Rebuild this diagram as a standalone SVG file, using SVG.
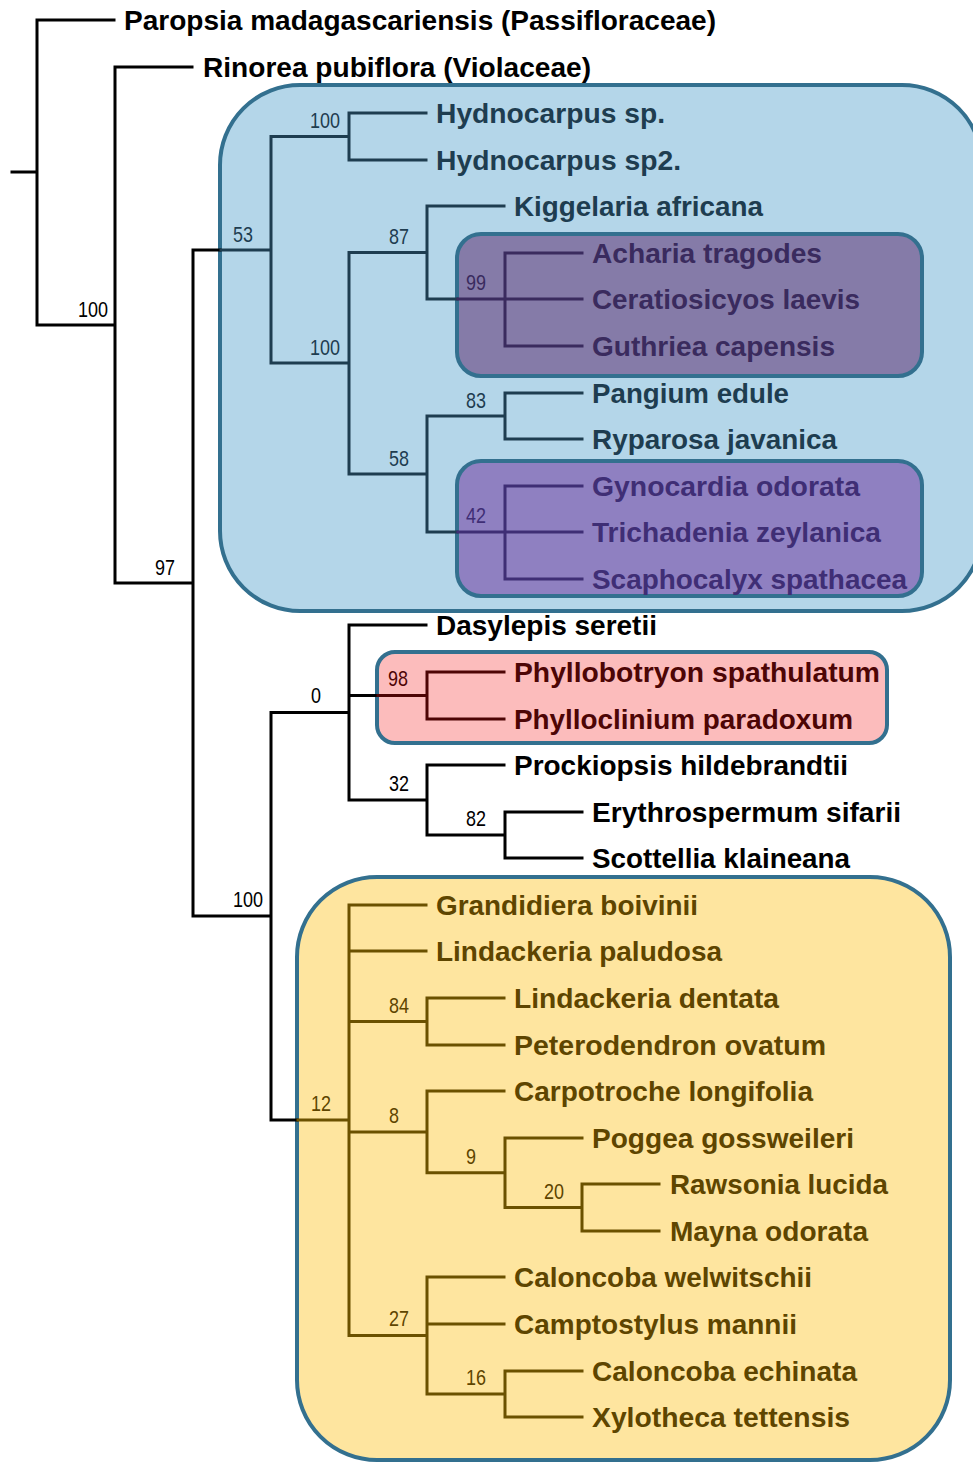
<svg xmlns="http://www.w3.org/2000/svg" width="973" height="1463" viewBox="0 0 973 1463">
<style>
.box{stroke:#33708f;stroke-width:4}
.ln{fill:none;stroke-width:3;stroke-linecap:square;stroke-linejoin:miter}
.k{stroke:#000}.tl{stroke:#1e3d50}.dp{stroke:#3a2b5e}.lp{stroke:#3f2e75}.rd{stroke:#4d0505}.br{stroke:#6b5100}
.t{font-family:"Liberation Sans",Arial,sans-serif;font-weight:bold;font-size:28px}
.n{font-family:"Liberation Sans",Arial,sans-serif;font-size:22px}
.fk{fill:#000}.ftl{fill:#1e3d50}.fdp{fill:#3a2b5e}.flp{fill:#3f2e75}.frd{fill:#4d0505}.fbr{fill:#5e4500}
</style>
<rect width="973" height="1463" fill="#fff"/>
<g id="boxes">
<rect id="box-blue" class="box" x="220" y="85" width="762" height="526" rx="80" fill="#b4d6e9"/>
<rect id="box-darkpurple" class="box" x="457" y="234" width="465" height="142" rx="24" fill="#857ba8"/>
<rect id="box-lightpurple" class="box" x="457" y="461" width="465" height="135" rx="24" fill="#8f80c1"/>
<rect id="box-pink" class="box" x="377" y="652" width="510" height="91" rx="18" fill="#fcbcbc"/>
<rect id="box-yellow" class="box" x="297" y="877" width="653" height="583" rx="80" fill="#fee59f"/>
</g>
<g id="connectors">
<path class="ln k" d="M12 172H37M37 20V325M37 20H114M37 325H115M115 67V583M115 67H192M115 583H193M193 250V916M193 250H220M193 916H271M271 712.5V1120M271 712.5H349M271 1120H297M349 625V800M349 625H426M349 695.5H377M349 800H427M427 765V835M427 765H504M427 835H505M505 812V858M505 812H582M505 858H582"/>
<path class="ln tl" d="M221 250H271M271 136.5V363M271 136.5H349M271 363H349M349 113V160M349 113H426M349 160H426M349 252.5V474M349 252.5H427M349 474H427M427 206V299M427 206H504M427 299H457M427 416V532M427 416H505M427 532H457M505 393V439M505 393H582M505 439H582"/>
<path class="ln dp" d="M458 299H505M505 253V346M505 253H582M505 299H582M505 346H582"/>
<path class="ln lp" d="M458 532H505M505 486V579M505 486H582M505 532H582M505 579H582"/>
<path class="ln rd" d="M378 695.5H427M427 672V719M427 672H504M427 719H504"/>
<path class="ln br" d="M298 1120H349M349 905V1335.5M349 905H426M349 951H426M349 1021.5H427M427 998V1045M427 998H504M427 1045H504M349 1132H427M427 1091V1172.7M427 1091H504M427 1172.7H505M505 1138V1207.5M505 1138H582M505 1207.5H582M582 1184V1231M582 1184H659M582 1231H659M349 1335.5H427M427 1277V1394M427 1277H504M427 1324H504M427 1394H505M505 1371V1417M505 1371H582M505 1417H582"/>
</g>
<g id="support-labels">
<text class="n fk" x="78" y="317" textLength="30" lengthAdjust="spacingAndGlyphs">100</text>
<text class="n fk" x="155" y="575" textLength="20" lengthAdjust="spacingAndGlyphs">97</text>
<text class="n ftl" x="233" y="242" textLength="20" lengthAdjust="spacingAndGlyphs">53</text>
<text class="n ftl" x="310" y="128" textLength="30" lengthAdjust="spacingAndGlyphs">100</text>
<text class="n ftl" x="310" y="355" textLength="30" lengthAdjust="spacingAndGlyphs">100</text>
<text class="n ftl" x="389" y="244" textLength="20" lengthAdjust="spacingAndGlyphs">87</text>
<text class="n fdp" x="466" y="290" textLength="20" lengthAdjust="spacingAndGlyphs">99</text>
<text class="n ftl" x="389" y="466" textLength="20" lengthAdjust="spacingAndGlyphs">58</text>
<text class="n ftl" x="466" y="408" textLength="20" lengthAdjust="spacingAndGlyphs">83</text>
<text class="n flp" x="466" y="523" textLength="20" lengthAdjust="spacingAndGlyphs">42</text>
<text class="n fk" x="311" y="703" textLength="10" lengthAdjust="spacingAndGlyphs">0</text>
<text class="n frd" x="388" y="686" textLength="20" lengthAdjust="spacingAndGlyphs">98</text>
<text class="n fk" x="389" y="791" textLength="20" lengthAdjust="spacingAndGlyphs">32</text>
<text class="n fk" x="466" y="826" textLength="20" lengthAdjust="spacingAndGlyphs">82</text>
<text class="n fk" x="233" y="907" textLength="30" lengthAdjust="spacingAndGlyphs">100</text>
<text class="n fbr" x="311" y="1111" textLength="20" lengthAdjust="spacingAndGlyphs">12</text>
<text class="n fbr" x="389" y="1013" textLength="20" lengthAdjust="spacingAndGlyphs">84</text>
<text class="n fbr" x="389" y="1123" textLength="10" lengthAdjust="spacingAndGlyphs">8</text>
<text class="n fbr" x="466" y="1164" textLength="10" lengthAdjust="spacingAndGlyphs">9</text>
<text class="n fbr" x="544" y="1199" textLength="20" lengthAdjust="spacingAndGlyphs">20</text>
<text class="n fbr" x="389" y="1326" textLength="20" lengthAdjust="spacingAndGlyphs">27</text>
<text class="n fbr" x="466" y="1385" textLength="20" lengthAdjust="spacingAndGlyphs">16</text>
</g>
<g id="taxa">
<g id="node-paropsia"><text class="t fk" x="124" y="30" textLength="592" lengthAdjust="spacingAndGlyphs">Paropsia madagascariensis (Passifloraceae)</text></g>
<g id="node-rinorea"><text class="t fk" x="203" y="77" textLength="388" lengthAdjust="spacingAndGlyphs">Rinorea pubiflora (Violaceae)</text></g>
<g id="node-hydnocarpus1"><text class="t ftl" x="436" y="123" textLength="229" lengthAdjust="spacingAndGlyphs">Hydnocarpus sp.</text></g>
<g id="node-hydnocarpus2"><text class="t ftl" x="436" y="170" textLength="245" lengthAdjust="spacingAndGlyphs">Hydnocarpus sp2.</text></g>
<g id="node-kiggelaria"><text class="t ftl" x="514" y="216" textLength="249" lengthAdjust="spacingAndGlyphs">Kiggelaria africana</text></g>
<g id="node-acharia"><text class="t fdp" x="592" y="263" textLength="230" lengthAdjust="spacingAndGlyphs">Acharia tragodes</text></g>
<g id="node-ceratiosicyos"><text class="t fdp" x="592" y="309" textLength="268" lengthAdjust="spacingAndGlyphs">Ceratiosicyos laevis</text></g>
<g id="node-guthriea"><text class="t fdp" x="592" y="356" textLength="243" lengthAdjust="spacingAndGlyphs">Guthriea capensis</text></g>
<g id="node-pangium"><text class="t ftl" x="592" y="403" textLength="197" lengthAdjust="spacingAndGlyphs">Pangium edule</text></g>
<g id="node-ryparosa"><text class="t ftl" x="592" y="449" textLength="245" lengthAdjust="spacingAndGlyphs">Ryparosa javanica</text></g>
<g id="node-gynocardia"><text class="t flp" x="592" y="496" textLength="268" lengthAdjust="spacingAndGlyphs">Gynocardia odorata</text></g>
<g id="node-trichadenia"><text class="t flp" x="592" y="542" textLength="289" lengthAdjust="spacingAndGlyphs">Trichadenia zeylanica</text></g>
<g id="node-scaphocalyx"><text class="t flp" x="592" y="589" textLength="315" lengthAdjust="spacingAndGlyphs">Scaphocalyx spathacea</text></g>
<g id="node-dasylepis"><text class="t fk" x="436" y="635" textLength="221" lengthAdjust="spacingAndGlyphs">Dasylepis seretii</text></g>
<g id="node-phyllobotryon"><text class="t frd" x="514" y="682" textLength="366" lengthAdjust="spacingAndGlyphs">Phyllobotryon spathulatum</text></g>
<g id="node-phylloclinium"><text class="t frd" x="514" y="729" textLength="339" lengthAdjust="spacingAndGlyphs">Phylloclinium paradoxum</text></g>
<g id="node-prockiopsis"><text class="t fk" x="514" y="775" textLength="334" lengthAdjust="spacingAndGlyphs">Prockiopsis hildebrandtii</text></g>
<g id="node-erythrospermum"><text class="t fk" x="592" y="822" textLength="309" lengthAdjust="spacingAndGlyphs">Erythrospermum sifarii</text></g>
<g id="node-scottellia"><text class="t fk" x="592" y="868" textLength="258" lengthAdjust="spacingAndGlyphs">Scottellia klaineana</text></g>
<g id="node-grandidiera"><text class="t fbr" x="436" y="915" textLength="262" lengthAdjust="spacingAndGlyphs">Grandidiera boivinii</text></g>
<g id="node-lindackeria-paludosa"><text class="t fbr" x="436" y="961" textLength="286" lengthAdjust="spacingAndGlyphs">Lindackeria paludosa</text></g>
<g id="node-lindackeria-dentata"><text class="t fbr" x="514" y="1008" textLength="265" lengthAdjust="spacingAndGlyphs">Lindackeria dentata</text></g>
<g id="node-peterodendron"><text class="t fbr" x="514" y="1055" textLength="312" lengthAdjust="spacingAndGlyphs">Peterodendron ovatum</text></g>
<g id="node-carpotroche"><text class="t fbr" x="514" y="1101" textLength="299" lengthAdjust="spacingAndGlyphs">Carpotroche longifolia</text></g>
<g id="node-poggea"><text class="t fbr" x="592" y="1148" textLength="262" lengthAdjust="spacingAndGlyphs">Poggea gossweileri</text></g>
<g id="node-rawsonia"><text class="t fbr" x="670" y="1194" textLength="218" lengthAdjust="spacingAndGlyphs">Rawsonia lucida</text></g>
<g id="node-mayna"><text class="t fbr" x="670" y="1241" textLength="198" lengthAdjust="spacingAndGlyphs">Mayna odorata</text></g>
<g id="node-caloncoba-welwitschii"><text class="t fbr" x="514" y="1287" textLength="298" lengthAdjust="spacingAndGlyphs">Caloncoba welwitschii</text></g>
<g id="node-camptostylus"><text class="t fbr" x="514" y="1334" textLength="283" lengthAdjust="spacingAndGlyphs">Camptostylus mannii</text></g>
<g id="node-caloncoba-echinata"><text class="t fbr" x="592" y="1381" textLength="265" lengthAdjust="spacingAndGlyphs">Caloncoba echinata</text></g>
<g id="node-xylotheca"><text class="t fbr" x="592" y="1427" textLength="258" lengthAdjust="spacingAndGlyphs">Xylotheca tettensis</text></g>
</g>
</svg>
